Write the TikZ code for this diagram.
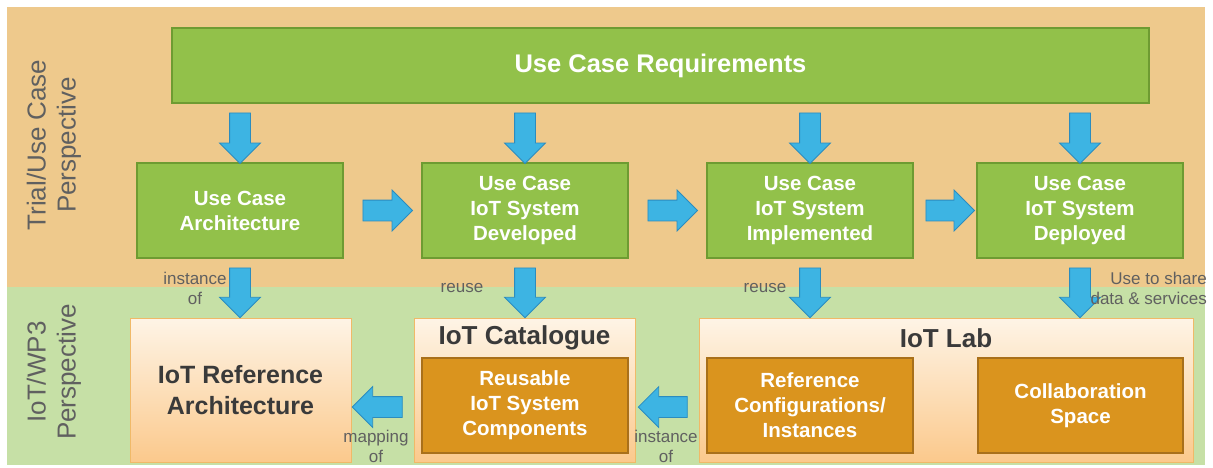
\documentclass[tikz,border=0pt]{standalone}
\usepackage{fontspec}
\setmainfont{Liberation Sans}
\usetikzlibrary{shapes.arrows,calc}
\definecolor{bgorange}{HTML}{EEC98C}
\definecolor{bggreen}{HTML}{C6E0A6}
\definecolor{boxgreen}{HTML}{92C14A}
\definecolor{boxgreenD}{HTML}{6E9B32}
\definecolor{arr}{HTML}{3DB4E3}
\definecolor{arrD}{HTML}{2B8CBF}
\definecolor{inner}{HTML}{DA941E}
\definecolor{innerD}{HTML}{A9701A}
\definecolor{creamT}{HTML}{FEF4E6}
\definecolor{creamB}{HTML}{FBC98C}
\definecolor{creamD}{HTML}{F0B968}
\definecolor{darktext}{HTML}{3A3A3A}
\definecolor{greytext}{HTML}{606060}
\tikzset{
  greenbox/.style={draw=boxgreenD, fill=boxgreen, line width=1.5pt, text=white,
    font=\bfseries\fontsize{20.5}{25}\selectfont, align=center, inner sep=0pt,
    minimum width=206pt, minimum height=95pt},
  creambox/.style={draw=creamD, top color=creamT, bottom color=creamB, line width=1pt,
    inner sep=0pt, minimum height=144pt, minimum width=221pt},
  innerbox/.style={draw=innerD, fill=inner, line width=1.5pt, text=white,
    font=\bfseries\fontsize{20.5}{25}\selectfont, align=center, inner sep=0pt,
    minimum width=206pt, minimum height=95pt},
  titletext/.style={text=darktext, font=\bfseries\fontsize{26}{31}\selectfont, align=center, inner sep=0pt},
  sidelabel/.style={text=greytext, font=\fontsize{26}{30}\selectfont, align=center, rotate=90, inner sep=0pt},
  smalllabel/.style={text=greytext, font=\fontsize{17}{20}\selectfont, align=center, inner sep=0pt},
  fatarrow/.style={single arrow, draw=arrD, fill=arr, line width=0.8pt, inner xsep=0pt,
    inner ysep=10pt, outer sep=0pt, single arrow head extend=10pt, single arrow head indent=0pt}
}
\newcommand\fatarr[2]{\path let \p1=(#1), \p2=(#2),
  \n1={atan2(\y2-\y1,\x2-\x1)}, \n2={veclen(\x2-\x1,\y2-\y1)} in
  node[fatarrow, minimum height=\n2, rotate=\n1] at ($(\p1)!0.5!(\p2)$) {};}
\begin{document}
\begin{tikzpicture}[x=1pt,y=-1pt]
\useasboundingbox (0,0) rectangle (1213,467);
\fill[white] (0,0) rectangle (1213,467);
\fill[bgorange] (7,7) rectangle (1205,287);
\fill[bggreen] (7,287) rectangle (1205,465);

\node[sidelabel] (sideA) at (54,145) {Trial/Use Case\\Perspective};
\node[sidelabel] (sideB) at (54,372) {IoT/WP3\\Perspective};

\node[greenbox, minimum width=977pt, minimum height=75pt, font=\bfseries\fontsize{25.5}{30}\selectfont] (req) at (660.5,65.5) {Use Case Requirements};

\node[greenbox] (ucA) at (240,210.5) {Use Case\\Architecture};
\node[greenbox] (ucB) at (525,210.5) {Use Case\\IoT System\\Developed};
\node[greenbox] (ucC) at (810,210.5) {Use Case\\IoT System\\Implemented};
\node[greenbox] (ucD) at (1080,210.5) {Use Case\\IoT System\\Deployed};

\node[creambox] (refarch) at (240.5,390) {};
\node[titletext, font=\bfseries\fontsize{25}{31}\selectfont] (refarchtext) at (240.5,390) {IoT Reference\\Architecture};
\node[creambox] (cat) at (524.5,390) {};
\node[creambox, minimum width=494pt] (lab) at (946,390) {};
\node[titletext] (cattitle) at (524.5,338) {IoT Catalogue};
\node[titletext] (labtitle) at (946,338) {IoT Lab};
\node[innerbox] (reuse) at (525,405.5) {Reusable\\IoT System\\Components};
\node[innerbox] (refconf) at (810,405.5) {Reference\\Configurations/\\Instances};
\node[innerbox, minimum width=205pt] (collab) at (1080.5,405.5) {Collaboration\\Space};

\foreach \b in {ucA,ucB,ucC,ucD}{
  \fatarr{$(req.south -| \b.north)+(0,4)$}{$(\b.north)+(0,-4)$}
}
\fatarr{$(ucA.east)+(14,0)$}{$(ucB.west)+(-14,0)$}
\fatarr{$(ucB.east)+(14,0)$}{$(ucC.west)+(-14,0)$}
\fatarr{$(ucC.east)+(7,0)$}{$(ucD.west)+(-7,0)$}

\fatarr{$(ucA.south)+(0,4)$}{$(ucA.south |- refarch.north)+(0,-5)$}
\fatarr{$(ucB.south)+(0,4)$}{$(ucB.south |- cat.north)+(0,-5)$}
\fatarr{$(ucC.south)+(0,4)$}{$(ucC.south |- lab.north)+(0,-5)$}
\fatarr{$(ucD.south)+(0,4)$}{$(ucD.south |- lab.north)+(0,-5)$}

\fatarr{$(cat.west)+(-6,17)$}{$(refarch.east)+(6,17)$}
\fatarr{$(lab.west)+(-6,17)$}{$(cat.east)+(8,17)$}

\node[smalllabel] (l1) at (195,288) {instance\\of};
\node[smalllabel] (l2) at (462,288) {reuse};
\node[smalllabel] (l3) at (765,288) {reuse};
\node[smalllabel, align=right, anchor=east] (l4) at (1207,288) {Use to share\\data \& services};
\node[smalllabel] (l5) at (376,446) {mapping\\of};
\node[smalllabel] (l6) at (666,446) {instance\\of};
\end{tikzpicture}
\end{document}
